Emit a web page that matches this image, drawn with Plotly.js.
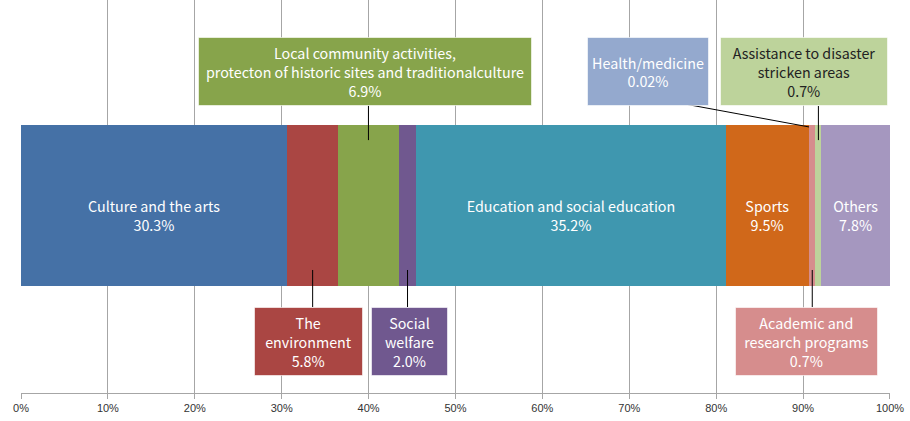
<!DOCTYPE html>
<html>
<head>
<meta charset="utf-8">
<script src="https://cdn.plot.ly/plotly-3.0.1.min.js"></script>
<style>html,body{margin:0;padding:0;background:#fff;}#chart{width:910px;height:421px;}</style>
</head>
<body>
<div id="chart"></div>
<script>
const categories = ["Culture and the arts", "The environment", "Local community activities, protecton of historic sites and traditionalculture", "Social welfare", "Education and social education", "Sports", "Health/medicine", "Academic and research programs", "Assistance to disaster stricken areas", "Others"];
const labelLines = ["Culture and the arts", "The<br>environment", "Local community activities,<br>protecton of historic sites and traditionalculture", "Social<br>welfare", "Education and social education", "Sports", "Health/medicine", "Academic and<br>research programs", "Assistance to disaster<br>stricken areas", "Others"];
const values = [30.3, 5.8, 6.9, 2.0, 35.2, 9.5, 0.02, 0.7, 0.7, 7.8];
const valueLabels = ["30.3%", "5.8%", "6.9%", "2.0%", "35.2%", "9.5%", "0.02%", "0.7%", "0.7%", "7.8%"];
const colors = ["#4571A6", "#AA4643", "#87A44B", "#70588F", "#3F97AF", "#D0681A", "#94A9CE", "#D68D8D", "#BDD39B", "#A597BF"];
const insideLabel = [true, false, false, false, true, true, false, false, false, true];
const tickVals = [0, 10, 20, 30, 40, 50, 60, 70, 80, 90, 100];

// callouts: index, box centre (x in %, y in axis units), box size, arrow depth into bar, text colour
const callouts = [
  {i: 2, ax: 39.59, ay: 0.682, w: 332, h: 67, py: 0.333, tc: "#ffffff", fromCentre: true},
  {i: 6, ax: 72.15, ay: 0.682, w: 120, h: 67, py: 0.40, tc: "#ffffff", fromCentre: false},
  {i: 8, ax: 90.10, ay: 0.682, w: 166, h: 67, py: 0.333, tc: "#222222", fromCentre: true},
  {i: 1, ax: 33.08, ay: -0.692, w: 107, h: 67, py: -0.328, tc: "#ffffff", fromCentre: true},
  {i: 3, ax: 44.71, ay: -0.692, w: 75, h: 67, py: -0.328, tc: "#ffffff", fromCentre: true},
  {i: 7, ax: 90.39, ay: -0.692, w: 141, h: 67, py: -0.328, tc: "#ffffff", fromCentre: true}
];

const total = values.reduce((a, b) => a + b, 0);
const starts = [];
let acc = 0;
values.forEach(v => { starts.push(acc / total * 100); acc += v; });

const font = "Noto Sans CJK JP, Noto Sans, sans-serif";

const traces = values.map((v, i) => ({
  type: "bar",
  orientation: "h",
  x: [v],
  y: [0],
  width: 0.82,
  name: categories[i],
  marker: {color: colors[i], line: {width: 0}},
  text: [insideLabel[i] ? " <br>" + labelLines[i] + "<br>" + valueLabels[i] : ""],
  texttemplate: "%{text}",
  textposition: "inside",
  insidetextanchor: "middle",
  constraintext: "none",
  textangle: 0,
  textfont: {color: "#ffffff", size: 14.3, family: font},
  hoverinfo: "skip",
  cliponaxis: false
}));

const annotations = [];
const shapes = [];
callouts.forEach(c => {
  const i = c.i;
  const mid = starts[i] + values[i] / total * 100 / 2;
  const xPoint = c.i === 6 ? starts[i] : mid;
  annotations.push({
    xref: "x", yref: "y",
    x: c.ax, y: c.ay,
    text: labelLines[i] + "<br>" + valueLabels[i],
    showarrow: false,
    bgcolor: colors[i],
    bordercolor: "rgba(255,255,255,0.6)",
    borderwidth: 1,
    borderpad: 0,
    width: c.w, height: c.h,
    font: {color: c.tc, size: 14.3, family: font},
    align: "center", valign: "middle"
  });
  const up = c.ay > 0;
  const boxEdge = up ? c.ay - (c.h / 2 + 1) / 196.5 : c.ay + (c.h / 2 + 1) / 196.5;
  if (c.fromCentre) {
    shapes.push({type: "line", xref: "x", yref: "y", x0: mid, x1: mid, y0: boxEdge, y1: c.py,
      line: {color: "#000000", width: 1}});
  } else {
    shapes.push({type: "line", xref: "x", yref: "y", x0: c.ax + 1.75, x1: xPoint, y0: boxEdge + 6/196.5, y1: c.py,
      line: {color: "#000000", width: 1}});
  }
});

const layout = {
  width: 910, height: 421,
  margin: {l: 21, r: 20, t: 0, b: 28, pad: 0},
  paper_bgcolor: "#ffffff", plot_bgcolor: "#ffffff",
  barmode: "stack",
  barnorm: "percent",
  showlegend: false,
  xaxis: {
    range: [0, 100.001],
    tickvals: tickVals,
    ticktext: tickVals.map(t => t + "%"),
    showgrid: true, gridcolor: "#A6A6A6", gridwidth: 1,
    zeroline: false,
    showline: true, linecolor: "#A6A6A6", linewidth: 1,
    ticks: "outside", ticklen: 5, tickcolor: "#A6A6A6",
    tickfont: {family: "Liberation Sans, Arial, sans-serif", size: 11, color: "#333333"},
    fixedrange: true
  },
  yaxis: {
    range: [-0.954, 1.046],
    showgrid: false, zeroline: false, showline: false, showticklabels: false, ticks: "",
    fixedrange: true
  },
  annotations: annotations,
  shapes: shapes
};

Plotly.newPlot("chart", traces, layout, {displayModeBar: false, staticPlot: true});
</script>
</body>
</html>
